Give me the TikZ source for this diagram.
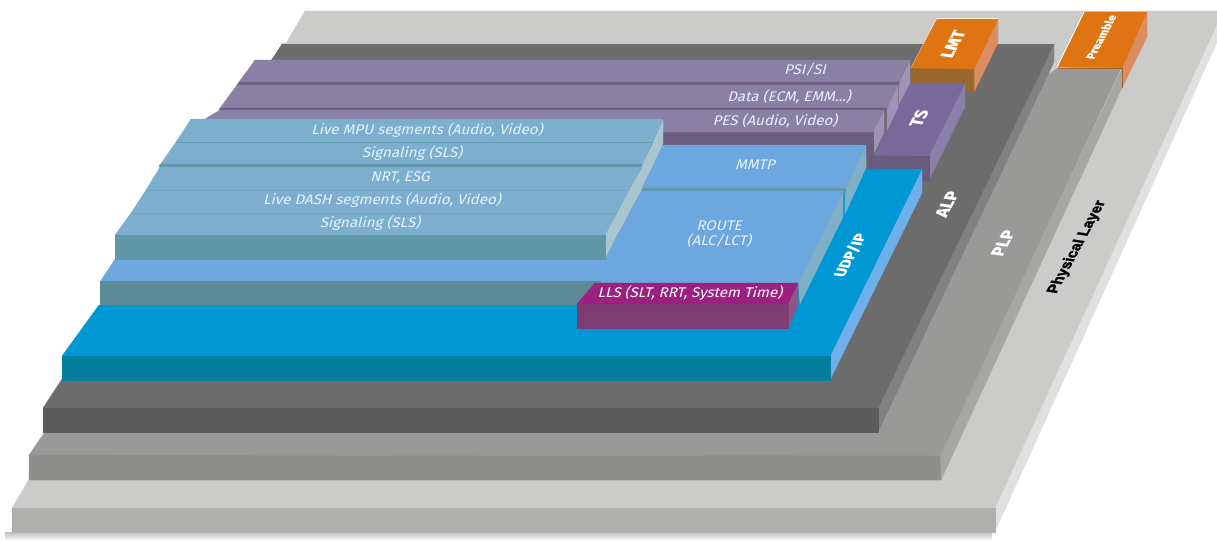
\documentclass[tikz,border=0pt]{standalone}
\usepackage{fontspec}
\setmainfont[BoldFeatures={FakeBold=0.6}]{Fira Sans}
\newfontfamily\labfont[FakeSlant=0.25,FakeStretch=1.08]{Fira Sans}
\newfontfamily\phyfont[BoldFeatures={FakeBold=2}]{Liberation Sans}
\usetikzlibrary{shadings}
\definecolor{phyT}{HTML}{CBCBC9}\definecolor{phyF}{HTML}{AFAFAE}\definecolor{phyS}{HTML}{E0E0DF}
\definecolor{plpT}{HTML}{999998}\definecolor{plpF}{HTML}{8E8E8D}\definecolor{plpS}{HTML}{A6A6A4}
\definecolor{alpT}{HTML}{6C6C6C}\definecolor{alpF}{HTML}{5B5B5B}\definecolor{alpS}{HTML}{7F8280}
\definecolor{orT}{HTML}{DE7512}\definecolor{orF}{HTML}{9A672F}\definecolor{orS}{HTML}{DB8C60}
\definecolor{tsT}{HTML}{79699A}\definecolor{tsF}{HTML}{685B7D}\definecolor{tsS}{HTML}{8B80A9}
\definecolor{puT}{HTML}{8A80A6}\definecolor{puF}{HTML}{6A5D80}\definecolor{puS}{HTML}{9C93B6}
\definecolor{ltT}{HTML}{7CAFCE}\definecolor{ltF}{HTML}{5F97A6}\definecolor{ltS}{HTML}{A9C6CE}
\definecolor{blT}{HTML}{6CA7DF}\definecolor{blF}{HTML}{5E8A96}\definecolor{blS}{HTML}{80B0C8}
\definecolor{udT}{HTML}{0097D5}\definecolor{udF}{HTML}{027F9E}\definecolor{udS}{HTML}{6DB0EC}
\definecolor{llT}{HTML}{9C207F}\definecolor{llF}{HTML}{7C3E72}\definecolor{llS}{HTML}{8E5684}
\definecolor{labc}{HTML}{E4F1FA}
\tikzset{
  face/.style={fill=#1,draw=#1,line width=0.2pt},
  lab/.style={text=labc,font=\labfont\fontsize{14}{14.5}\selectfont,inner sep=0pt,align=center},
  vlab/.style={text=white,font=\bfseries\fontsize{#1}{#1}\selectfont,inner sep=0pt,cm={0.47,0.88,-1,0.15,(0,0)}},
}
\begin{document}
\begin{tikzpicture}[x=1pt,y=-1pt]
\useasboundingbox (0,0) rectangle (1217,541);
\clip (0,0) rectangle (1217,541);
% shadow
\shade[top color=black!25,bottom color=white] (5,532) rectangle (992,541);
% Physical layer
\fill[phyS] (995,508) -- (995,532) -- (1217,43) -- (1217,23) -- cycle;
\draw[face=phyT] (12,508) -- (995,508) -- (1223,11) -- (305,11) -- cycle;
\draw[face=phyF] (12,508) -- (995,508) -- (995,532) -- (12,532) -- cycle;
% PLP
\draw[face=plpS] (940,456) -- (941,480) -- (1122,88) -- (1122,68) -- cycle;
\draw[face=plpT] (29,455) -- (940,456) -- (1121,68) -- (1058,68) -- (1040,80) -- (60,410) -- cycle;
\draw[face=plpF] (29,455) -- (940,456) -- (941,480) -- (29,480) -- cycle;
% Preamble
\draw[face=orS] (1147,12) -- (1147,37) -- (1122,88) -- (1122,68) -- cycle;
\draw[white,line width=0.7pt] (1057,67) -- (1084,12);
\draw[face=orT] (1085,12) -- (1147,12) -- (1122,68) -- (1058,67) -- cycle;
\draw[orF,line width=0.9pt] (1058,68) -- (1122,68) -- (1122,88);
% ALP
\draw[white!85!black,line width=1pt] (282,43) -- (1054,43);
\draw[face=alpS] (878,408) -- (878,432) -- (1054,62) -- (1054,44) -- cycle;
\draw[face=alpT] (43,408) -- (878,408) -- (1054,44) -- (282,44) -- cycle;
\draw[face=alpF] (43,408) -- (878,408) -- (878,432) -- (43,432) -- cycle;
% LMT
\draw[white,line width=0.7pt] (911,68) -- (937,18.5) -- (998,18.5);
\draw[face=orS] (998,19) -- (998,43) -- (974,92) -- (974,69) -- cycle;
\draw[face=orF] (911,68) -- (974,69) -- (974,92) -- (911,92) -- cycle;
\draw[face=orT] (937,19) -- (998,19) -- (974,69) -- (911,68) -- cycle;
% TS
\draw[face=tsS] (965,83) -- (965,107) -- (929,180) -- (929,156) -- cycle;
\draw[face=tsF] (868,156) -- (929,156) -- (929,180) -- (868,180) -- cycle;
\draw[face=tsT] (908,83) -- (965,83) -- (929,156) -- (875,155) -- cycle;
% PSI/SI row
\draw[face=puS] (910,60) -- (910,83) -- (899,104) -- (899,83) -- cycle;
\draw[face=puT] (255,60) -- (910,60) -- (899,82) -- (239,82) -- cycle;
\draw[face=puF] (239,82) -- (899,82) -- (899,85) -- (237,85) -- cycle;
% Data row
\draw[face=puS] (898,85) -- (898,108) -- (887,130) -- (887,108) -- cycle;
\draw[face=puT] (237,85) -- (898,85) -- (887,108) -- (220,108) -- cycle;
\draw[face=puF] (220,108) -- (887,108) -- (887,110) -- (219,110) -- cycle;
% PES row
\draw[face=puS] (884,110) -- (884,133) -- (873,155) -- (873,132) -- cycle;
\draw[face=puF] (620,132) -- (873,132) -- (873,155) -- (620,155) -- cycle;
\draw[face=puT] (220,110) -- (884,110) -- (873,132) -- (190,132) -- (205,119) -- cycle;
% UDP/IP
\draw[face=udS] (922,169) -- (922,193) -- (830,380) -- (830,356) -- cycle;
\draw[face=udT] (62,356) -- (830,356) -- (922,169) -- (840,169) -- (600,305) -- (99,305) -- cycle;
\draw[face=udF] (62,356) -- (830,356) -- (830,380) -- (62,380) -- cycle;
% MMTP
\draw[face=blS] (866,145) -- (866,168) -- (845,214) -- (845,188) -- cycle;
\draw[face=ltF] (642,188) -- (845,188) -- (845,192) -- (642,192) -- cycle;
\draw[face=blT] (660,145) -- (866,145) -- (845,188) -- (642,188) -- cycle;
% ROUTE
\draw[face=blS] (843,191) -- (843,217) -- (800,304) -- (798,282) -- cycle;
\draw[face=blT] (640,191) -- (843,191) -- (798,283) -- (100,282) -- (115,259) -- (605,259) -- cycle;
\draw[face=blF] (100,281) -- (600,281) -- (600,304) -- (100,304) -- cycle;
% LLS
\draw[face=llS] (798,283) -- (798,305) -- (788,328) -- (788,304) -- cycle;
\draw[face=llF] (577,304) -- (788,304) -- (788,328) -- (577,328) -- cycle;
\draw[face=llT] (595,283) -- (798,283) -- (788,304) -- (577,304) -- cycle;
% Live MPU
\draw[face=ltS] (663,120) -- (663,143) -- (653,165) -- (653,142) -- cycle;
\draw[face=ltT] (191,119) -- (663,119) -- (653,142) -- (176,142) -- cycle;
% Signaling
\draw[face=ltS] (653,143) -- (653,165) -- (642,187) -- (642,165) -- cycle;
\draw[face=ltT] (176,142) -- (653,142) -- (642,165) -- (160,165) -- cycle;
\draw[face=ltF] (160,164) -- (642,164) -- (642,167) -- (159,167) -- cycle;
% NRT
\draw[face=ltS] (642,167) -- (642,189) -- (629,212) -- (629,190) -- cycle;
\draw[face=ltT] (160,167) -- (642,167) -- (629,190) -- (146,190) -- cycle;
% Live DASH
\draw[face=ltS] (629,190) -- (629,213) -- (617,235) -- (617,213) -- cycle;
\draw[face=ltT] (146,190) -- (629,190) -- (617,213) -- (131,213) -- cycle;
% Signaling 2
\draw[face=ltS] (617,213) -- (617,235) -- (605,259) -- (605,235) -- cycle;
\draw[face=ltT] (131,213) -- (617,213) -- (605,235) -- (115,235) -- cycle;
\draw[face=ltF] (115,235) -- (605,235) -- (605,259) -- (115,259) -- cycle;
\draw[ltF!70!ltT,line width=0.5pt] (176,142) -- (653,142);
\draw[ltF!40!ltT,line width=0.5pt] (146,190) -- (629,190) (131,213) -- (617,213);
% labels
\node[lab] (psi) at (805,70) {PSI/SI};
\node[lab] (data) at (789,97) {Data (ECM, EMM...)};
\node[lab] (pes) at (775,121) {PES (Audio, Video)};
\node[lab] (mpu) at (427,130) {Live MPU segments (Audio, Video)};
\node[lab] (sig1) at (412,153) {Signaling (SLS)};
\node[lab] (nrt) at (400,178) {NRT, ESG};
\node[lab] (dash) at (382,200) {Live DASH segments (Audio, Video)};
\node[lab] (sig2) at (370,223) {Signaling (SLS)};
\node[lab] (mmtp) at (755,165) {MMTP};
\node[lab] (route) at (719,234) {ROUTE\\(ALC/LCT)};
\node[lab,text=white] (lls) at (690,293) {LLS (SLT, RRT, System Time)};
\node[vlab=15] (udp) at (850,255) {UDP/IP};
\node[vlab=17] (alp) at (947,204) {ALP};
\node[vlab=17] (plp) at (1003,243) {PLP};
\node[vlab=15,text=black,font=\phyfont\bfseries\fontsize{15}{15}\selectfont] (phy) at (1077,247) {Physical Layer};
\node[vlab=17] (ts) at (919,118) {TS};
\node[vlab=17] (lmt) at (953,44) {LMT};
\node[vlab=11.5] (pre) at (1101,37) {Preamble};
\end{tikzpicture}
\end{document}
